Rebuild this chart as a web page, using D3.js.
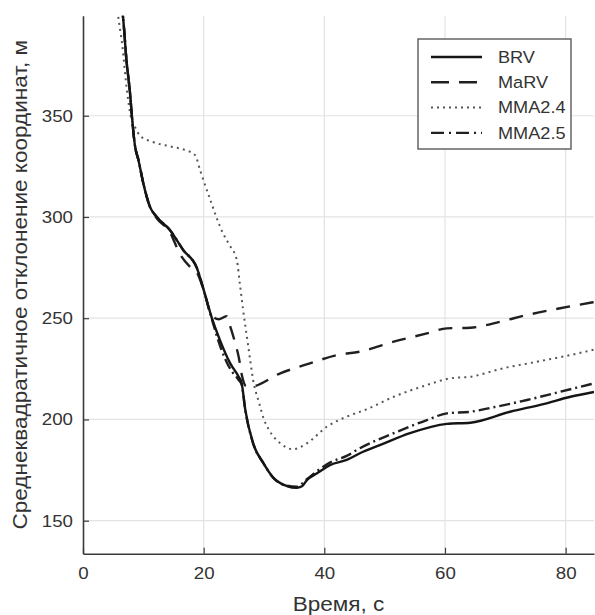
<!DOCTYPE html>
<html>
<head>
<meta charset="utf-8">
<script src="https://cdn.jsdelivr.net/npm/d3@7"></script>
<style>
  html, body { margin: 0; padding: 0; background: #fff; }
  svg { display: block; }
  text { font-family: "Liberation Sans", Arial, sans-serif; }
</style>
</head>
<body>
<svg id="chart" width="595" height="615"></svg>
<script>
// Series names shown in the legend
const seriesNames = ["BRV", "MaRV", "MMA2.4", "MMA2.5"];

// BRV: time (s) and RMS coordinate deviation (m)
const brvT = [6.3, 6.6, 7.2, 7.8, 8.1, 8.6, 9.2, 10.0, 11.1, 12.2, 14.4, 16.6, 18.9, 20.0, 21.3, 22.7, 24.4, 25.8, 26.3, 26.9, 28.2, 29.9, 31.6, 33.8, 35.4, 36.3, 37.1, 38.8, 41.0, 43.7, 45.9, 49.3, 54.2, 60.3, 64.2, 70.8, 76.3, 80.8, 84.7];
const brvV = [405, 399.6, 377.5, 361, 350, 335.5, 328, 316.6, 305, 300.1, 293.6, 283.7, 274.6, 264, 250.7, 239.2, 227.7, 221.1, 217.9, 204.7, 188.2, 178.4, 171, 167.1, 166.2, 167, 170, 173.4, 177.5, 180, 183.3, 187.4, 193.2, 197.8, 198.4, 203.8, 207.6, 211.2, 213.6];

// MaRV
const marvT = [6.3, 6.6, 7.2, 7.8, 8.1, 8.6, 9.2, 10.0, 11.1, 12.2, 14.4, 16.1, 17.7, 18.9, 20.0, 21.3, 22.5, 23.8, 24.4, 25.2, 25.8, 26.4, 27.0, 27.7, 32.7, 37.6, 42.1, 45.9, 51.5, 57.0, 60.3, 64.2, 69.2, 73.6, 79.1, 84.7];
const marvV = [405, 399.6, 377.5, 361, 350, 335.5, 328, 316.6, 305, 299.5, 292.5, 281.5, 275.5, 272.5, 264, 251.5, 249.5, 251, 246, 238, 231, 221, 216.5, 216.2, 222.8, 227.7, 231.8, 233.5, 238.4, 242.5, 245, 245.3, 248.3, 251.6, 254.9, 258];

// MMA2.4
const mma24T = [5.6, 5.8, 6.5, 7.3, 7.9, 8.6, 9.5, 11.4, 14.7, 17.0, 18.6, 19.4, 21.1, 23.2, 24.3, 25.5, 26.0, 26.5, 27.4, 28.2, 29.2, 30.0, 30.8, 32.7, 34.8, 37.1, 40.4, 43.7, 47.0, 51.5, 57.0, 60.9, 64.2, 69.7, 75.2, 80.8, 84.7];
const mma24V = [405, 400, 385, 362, 350, 344.6, 340, 337.2, 334.7, 333, 330.5, 323.2, 308.4, 291.9, 286, 278.7, 267, 255, 236, 219.5, 208, 200, 195, 188.2, 185.3, 188.2, 196.4, 201.4, 205, 211.2, 217, 220.3, 221.1, 225.3, 228.5, 231.8, 234.5];

// MMA2.5
const mma25T = [6.3, 6.6, 7.2, 7.8, 8.1, 8.6, 9.2, 10.0, 11.1, 12.2, 14.4, 16.6, 18.9, 20.0, 21.3, 22.7, 24.4, 25.8, 26.3, 26.9, 28.2, 29.9, 31.6, 33.8, 35.4, 37.1, 38.8, 41.0, 43.7, 45.9, 51.5, 57.0, 60.3, 64.2, 68.0, 73.6, 79.1, 84.7];
const mma25V = [405, 399.6, 377.5, 361, 350, 335.5, 328, 316.6, 305, 300.1, 293.6, 283.7, 274.6, 264, 250.2, 236.5, 225, 219.5, 217.2, 204.7, 188.2, 178.4, 171, 167.3, 166.8, 170.5, 174.5, 178.8, 182, 185.8, 193.2, 199.7, 203, 203.8, 206, 209.6, 213.7, 217.8];

// Axis ticks
const xTicks = [0, 20, 40, 60, 80];
const yTicks = [150, 200, 250, 300, 350];

const svg = d3.select("#chart");
const margin = { left: 83, right: 1, top: 15.7, bottom: 61.3 };
const W = 595, H = 615;
const x = d3.scaleLinear().domain([0, 84.7]).range([margin.left, W - margin.right]);
const y = d3.scaleLinear().domain([133.7, 399.4]).range([H - margin.bottom, margin.top]);

const STRETCH = 1.1;
const textColor = "#333";
const axisColor = "#3a3a3a";

// Grid
const grid = svg.append("g");
grid.selectAll("line.gx").data(xTicks.filter(d => d > 0)).join("line")
  .attr("x1", d => x(d)).attr("x2", d => x(d))
  .attr("y1", y.range()[0]).attr("y2", y.range()[1])
  .attr("stroke", "#e3e3e3").attr("stroke-width", 1.2);
grid.selectAll("line.gy").data(yTicks).join("line")
  .attr("y1", d => y(d)).attr("y2", d => y(d))
  .attr("x1", x.range()[0]).attr("x2", x.range()[1])
  .attr("stroke", "#e3e3e3").attr("stroke-width", 1.2);

// Clip to the plot area
svg.append("clipPath").attr("id", "plotClip").append("rect")
  .attr("x", x.range()[0]).attr("y", y.range()[1])
  .attr("width", x.range()[1] - x.range()[0])
  .attr("height", y.range()[0] - y.range()[1]);

const series = [
  { name: seriesNames[0], t: brvT, v: brvV, dash: null, width: 2.4, color: "#151515", legendDash: null },
  { name: seriesNames[1], t: marvT, v: marvV, dash: "14,10", width: 2.4, color: "#202020", legendDash: "18,10" },
  { name: seriesNames[2], t: mma24T, v: mma24V, dash: "2,4.2", width: 2, color: "#555", legendDash: "2,4" },
  { name: seriesNames[3], t: mma25T, v: mma25V, dash: "11,4,2,4", width: 2.4, color: "#202020", legendDash: "13,5,2,5" }
];

const line = d3.line().x(d => x(d[0])).y(d => y(d[1])).curve(d3.curveMonotoneX);

const plot = svg.append("g").attr("clip-path", "url(#plotClip)");
// draw dotted/dashed first so the solid line stays on top where they overlap
[2, 1, 3, 0].forEach(i => {
  const s = series[i];
  plot.append("path")
    .datum(s.t.map((t, k) => [t, s.v[k]]))
    .attr("d", line)
    .attr("fill", "none")
    .attr("stroke", s.color)
    .attr("stroke-width", s.width)
    .attr("stroke-dasharray", s.dash)
    .attr("stroke-linejoin", "round");
});

// Axes
const xAxis = d3.axisBottom(x).tickValues(xTicks).tickSizeInner(-6).tickSizeOuter(0).tickPadding(13);
const yAxis = d3.axisLeft(y).tickValues(yTicks).tickSizeInner(-6).tickSizeOuter(0).tickPadding(9.5);

const gx = svg.append("g").attr("transform", `translate(0,${y.range()[0]})`).call(xAxis);
const gy = svg.append("g").attr("transform", `translate(${x.range()[0]},0)`).call(yAxis);
[gx, gy].forEach(g => {
  g.select(".domain").attr("stroke", axisColor).attr("stroke-width", 1.6);
  g.selectAll(".tick line").attr("stroke", axisColor).attr("stroke-width", 1.2);
  g.selectAll(".tick text")
    .attr("fill", textColor)
    .style("font-family", '"Liberation Sans", Arial, sans-serif')
    .style("font-size", "17px")
    .attr("transform", `scale(${STRETCH},1)`);
});
gy.selectAll(".tick text").attr("x", -9.5 / STRETCH - 0.5);

// Axis titles
svg.append("text")
  .attr("transform", `translate(${(x.range()[0] + x.range()[1]) / 2},${H - 4}) scale(${STRETCH},1)`)
  .attr("text-anchor", "middle")
  .attr("fill", textColor)
  .style("font-size", "20.5px")
  .text("Время, с");

svg.append("text")
  .attr("transform", `translate(27,${(y.range()[0] + y.range()[1]) / 2}) rotate(-90) scale(${STRETCH},1)`)
  .attr("text-anchor", "middle")
  .attr("fill", textColor)
  .style("font-size", "20.5px")
  .text("Среднеквадратичное отклонение координат, м");

// Legend
const legend = svg.append("g").attr("transform", "translate(418,39)");
legend.append("rect")
  .attr("width", 153).attr("height", 110)
  .attr("fill", "#fff").attr("stroke", "#5a5a5a").attr("stroke-width", 1.4);
series.forEach((s, i) => {
  const ly = 18 + i * 25.3;
  legend.append("line")
    .attr("x1", 13).attr("x2", 64).attr("y1", ly).attr("y2", ly)
    .attr("stroke", s.color).attr("stroke-width", s.width)
    .attr("stroke-dasharray", s.legendDash);
  legend.append("text")
    .attr("transform", `translate(80,${ly}) scale(${STRETCH},1)`)
    .attr("dy", "0.35em")
    .attr("fill", textColor)
    .style("font-size", "16.5px")
    .text(s.name);
});
</script>
</body>
</html>
